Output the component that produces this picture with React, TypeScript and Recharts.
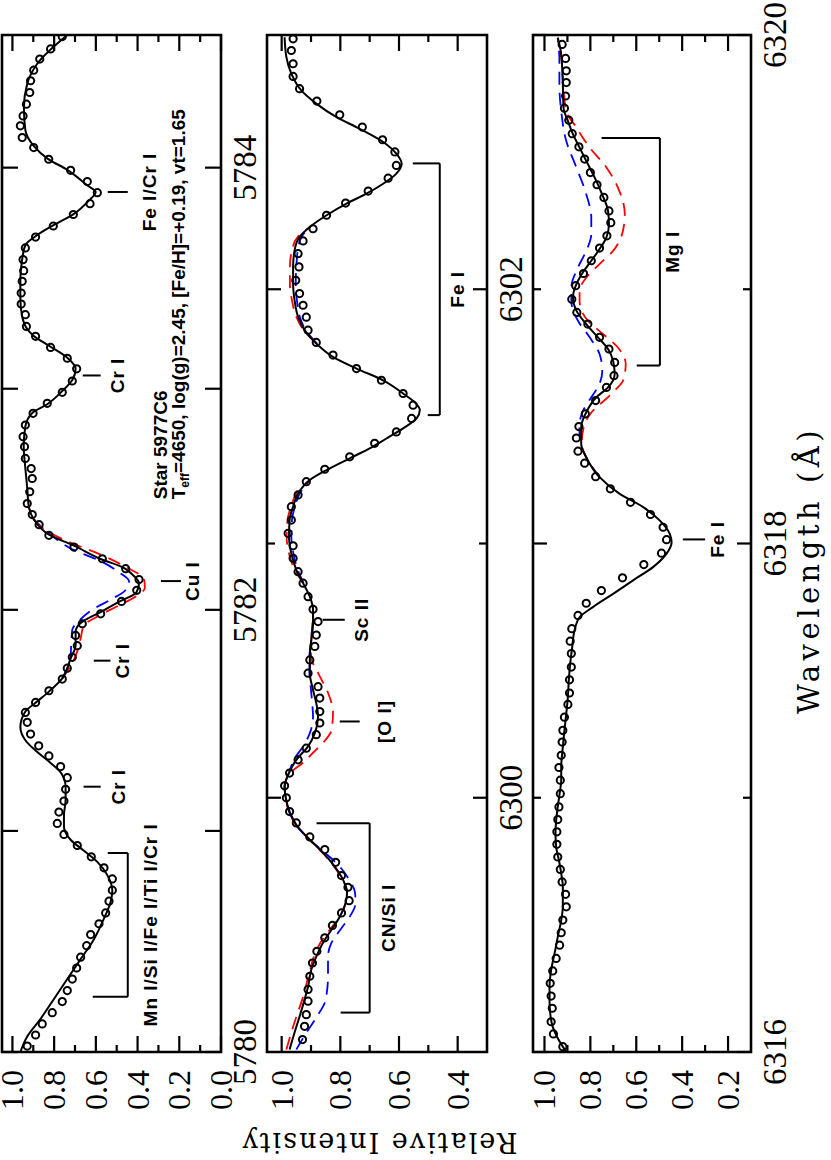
import React from 'react'
import { LineChart, Line, XAxis, YAxis, ReferenceLine, ReferenceDot, ReferenceArea } from 'recharts'

type P = [number, number]

// ---------- panel 1 : 5780 - 5784.6 A ----------
const p1Model: P[] = [
  [5780.00, 0.962], [5780.07, 0.929], [5780.15, 0.865], [5780.24, 0.801], [5780.33, 0.737], [5780.42, 0.673],
  [5780.51, 0.609], [5780.60, 0.563], [5780.68, 0.529], [5780.73, 0.521], [5780.80, 0.545], [5780.86, 0.593],
  [5780.91, 0.657], [5780.96, 0.721], [5781.02, 0.753], [5781.07, 0.753], [5781.14, 0.745], [5781.20, 0.745],
  [5781.26, 0.765], [5781.31, 0.820], [5781.36, 0.885], [5781.41, 0.938], [5781.47, 0.962], [5781.54, 0.938],
  [5781.58, 0.889], [5781.63, 0.825], [5781.69, 0.761], [5781.78, 0.721], [5781.84, 0.697], [5781.90, 0.697],
  [5781.94, 0.673], [5781.99, 0.577], [5782.04, 0.481], [5782.08, 0.405], [5782.12, 0.393], [5782.16, 0.425],
  [5782.19, 0.466], [5782.23, 0.577], [5782.29, 0.705], [5782.34, 0.825], [5782.41, 0.898], [5782.47, 0.922],
  [5782.55, 0.929], [5782.64, 0.938], [5782.74, 0.946], [5782.83, 0.938], [5782.89, 0.905], [5782.93, 0.833],
  [5782.99, 0.761], [5783.04, 0.713], [5783.09, 0.697], [5783.14, 0.737], [5783.19, 0.817], [5783.24, 0.899],
  [5783.27, 0.929], [5783.33, 0.954], [5783.41, 0.962], [5783.49, 0.962], [5783.58, 0.954], [5783.65, 0.938],
  [5783.69, 0.889], [5783.74, 0.803], [5783.79, 0.707], [5783.85, 0.635], [5783.89, 0.601], [5783.92, 0.641],
  [5783.99, 0.737], [5784.04, 0.830], [5784.10, 0.899], [5784.17, 0.938], [5784.27, 0.945], [5784.38, 0.929],
  [5784.47, 0.881], [5784.60, 0.737],
]
const p1Obs: P[] = [
  [5784.593, 0.761], [5784.537, 0.817], [5784.491, 0.869], [5784.441, 0.898], [5784.393, 0.913], [5784.340, 0.917],
  [5784.287, 0.933], [5784.234, 0.949], [5784.189, 0.962], [5784.136, 0.953], [5784.091, 0.898], [5784.038, 0.826],
  [5783.988, 0.721], [5783.937, 0.641], [5783.887, 0.593], [5783.837, 0.628], [5783.788, 0.708], [5783.736, 0.804],
  [5783.686, 0.889], [5783.637, 0.938], [5783.584, 0.949], [5783.534, 0.946], [5783.486, 0.953], [5783.433, 0.958],
  [5783.383, 0.958], [5783.335, 0.938], [5783.282, 0.933], [5783.237, 0.889], [5783.187, 0.817], [5783.138, 0.737],
  [5783.090, 0.692], [5783.035, 0.713], [5782.984, 0.761], [5782.934, 0.833], [5782.889, 0.901], [5782.836, 0.938],
  [5782.783, 0.949], [5782.738, 0.942], [5782.685, 0.938], [5782.639, 0.910], [5782.594, 0.905], [5782.534, 0.917],
  [5782.481, 0.929], [5782.431, 0.905], [5782.385, 0.872], [5782.337, 0.825], [5782.284, 0.705], [5782.231, 0.569],
  [5782.186, 0.457], [5782.137, 0.393], [5782.088, 0.404], [5782.038, 0.477], [5781.982, 0.577], [5781.937, 0.665],
  [5781.884, 0.697], [5781.838, 0.689], [5781.785, 0.713], [5781.736, 0.737], [5781.687, 0.761], [5781.634, 0.825],
  [5781.581, 0.889], [5781.536, 0.938], [5781.491, 0.929], [5781.438, 0.913], [5781.385, 0.874], [5781.339, 0.825],
  [5781.291, 0.769], [5781.241, 0.737], [5781.188, 0.745], [5781.135, 0.753], [5781.085, 0.777], [5781.034, 0.785],
  [5780.984, 0.753], [5780.934, 0.689], [5780.883, 0.622], [5780.833, 0.561], [5780.783, 0.521], [5780.732, 0.521],
  [5780.682, 0.537], [5780.629, 0.553], [5780.580, 0.585], [5780.531, 0.625], [5780.481, 0.644], [5780.429, 0.673],
  [5780.380, 0.692], [5780.330, 0.713], [5780.278, 0.737], [5780.228, 0.761], [5780.178, 0.809], [5780.127, 0.857],
  [5780.077, 0.889], [5780.027, 0.929],
]
const p1Red: P[][] = [[
  [5782.47, 0.922], [5782.39, 0.881], [5782.31, 0.737], [5782.25, 0.577], [5782.19, 0.449], [5782.14, 0.369],
  [5782.10, 0.365], [5782.06, 0.409], [5782.02, 0.489], [5781.97, 0.593], [5781.93, 0.657], [5781.87, 0.673],
  [5781.82, 0.686], [5781.76, 0.713], [5781.69, 0.761],
]]
const p1Blue: P[][] = [[
  [5782.41, 0.898], [5782.34, 0.817], [5782.27, 0.705], [5782.22, 0.577], [5782.17, 0.489], [5782.13, 0.441],
  [5782.09, 0.457], [5782.05, 0.521], [5782.005, 0.609], [5781.95, 0.681], [5781.91, 0.713], [5781.85, 0.718],
  [5781.79, 0.721], [5781.69, 0.761],
]]

// ---------- panel 2 : 6299 - 6303 A ----------
const p2Model: P[] = [
  [6299.010, 0.973], [6299.077, 0.956], [6299.139, 0.939], [6299.206, 0.922], [6299.257, 0.910], [6299.324, 0.899],
  [6299.375, 0.882], [6299.430, 0.859], [6299.481, 0.830], [6299.532, 0.802], [6299.587, 0.782], [6299.627, 0.777],
  [6299.678, 0.791], [6299.729, 0.819], [6299.784, 0.859], [6299.835, 0.904], [6299.894, 0.950], [6299.945, 0.973],
  [6300.000, 0.986], [6300.043, 0.990], [6300.098, 0.975], [6300.149, 0.950], [6300.202, 0.910], [6300.254, 0.887],
  [6300.320, 0.876], [6300.372, 0.882], [6300.424, 0.893], [6300.490, 0.904], [6300.555, 0.904], [6300.621, 0.899],
  [6300.686, 0.893], [6300.739, 0.893], [6300.791, 0.904], [6300.844, 0.927], [6300.896, 0.950], [6300.961, 0.967],
  [6301.027, 0.975], [6301.092, 0.973], [6301.145, 0.961], [6301.197, 0.944], [6301.250, 0.904], [6301.289, 0.847],
  [6301.335, 0.768], [6301.374, 0.700], [6301.413, 0.643], [6301.453, 0.586], [6301.492, 0.540], [6301.525, 0.529],
  [6301.550, 0.542], [6301.590, 0.586], [6301.642, 0.654], [6301.688, 0.745], [6301.734, 0.825], [6301.787, 0.882],
  [6301.839, 0.922], [6301.891, 0.944], [6301.957, 0.956], [6302.022, 0.961], [6302.088, 0.961], [6302.153, 0.956],
  [6302.206, 0.939], [6302.245, 0.904], [6302.291, 0.847], [6302.337, 0.779], [6302.376, 0.711], [6302.415, 0.654],
  [6302.455, 0.609], [6302.494, 0.591], [6302.533, 0.609], [6302.579, 0.654], [6302.631, 0.734], [6302.677, 0.813],
  [6302.730, 0.882], [6302.782, 0.933], [6302.848, 0.967], [6302.913, 0.984], [6302.991, 0.990],
]
const p2Obs: P[] = [
  [6302.985, 0.961], [6302.939, 0.967], [6302.887, 0.961], [6302.837, 0.961], [6302.789, 0.939], [6302.740, 0.880],
  [6302.686, 0.802], [6302.638, 0.725], [6302.588, 0.656], [6302.540, 0.614], [6302.487, 0.609], [6302.437, 0.637],
  [6302.386, 0.705], [6302.339, 0.782], [6302.291, 0.847], [6302.238, 0.893], [6302.190, 0.927], [6302.140, 0.944],
  [6302.088, 0.941], [6302.035, 0.952], [6301.983, 0.939], [6301.937, 0.927], [6301.890, 0.916], [6301.839, 0.910],
  [6301.791, 0.882], [6301.741, 0.825], [6301.688, 0.745], [6301.642, 0.660], [6301.590, 0.586], [6301.544, 0.552],
  [6301.492, 0.557], [6301.439, 0.609], [6301.394, 0.683], [6301.341, 0.768], [6301.292, 0.853], [6301.243, 0.916],
  [6301.191, 0.944], [6301.145, 0.967], [6301.092, 0.967], [6301.040, 0.978], [6300.991, 0.961], [6300.942, 0.961],
  [6300.889, 0.944], [6300.844, 0.927], [6300.791, 0.910], [6300.741, 0.893], [6300.693, 0.876], [6300.640, 0.882],
  [6300.595, 0.887], [6300.542, 0.904], [6300.490, 0.910], [6300.437, 0.876], [6300.392, 0.870], [6300.339, 0.870],
  [6300.294, 0.870], [6300.248, 0.882], [6300.195, 0.916], [6300.149, 0.944], [6300.097, 0.973], [6300.047, 0.990],
  [6300.000, 0.984], [6299.946, 0.973], [6299.901, 0.950], [6299.846, 0.904], [6299.796, 0.853], [6299.746, 0.816],
  [6299.694, 0.796], [6299.648, 0.774], [6299.595, 0.770], [6299.547, 0.796], [6299.498, 0.827], [6299.449, 0.853],
  [6299.396, 0.880], [6299.350, 0.895], [6299.298, 0.904], [6299.246, 0.910], [6299.200, 0.910], [6299.147, 0.916],
  [6299.101, 0.922], [6299.049, 0.929],
]
const p2Red: P[][] = [
  [[6302.245, 0.904], [6302.206, 0.945], [6302.153, 0.965], [6302.088, 0.972], [6302.022, 0.972], [6301.957, 0.965],
   [6301.891, 0.950], [6301.839, 0.925], [6301.787, 0.882]],
  [[6301.250, 0.904], [6301.197, 0.950], [6301.145, 0.968], [6301.092, 0.980], [6301.027, 0.983], [6300.961, 0.975],
   [6300.896, 0.955], [6300.844, 0.927]],
  [[6300.739, 0.893], [6300.686, 0.893], [6300.621, 0.899], [6300.555, 0.900], [6300.491, 0.876], [6300.413, 0.842],
   [6300.334, 0.825], [6300.267, 0.830], [6300.216, 0.859], [6300.177, 0.893], [6300.138, 0.927], [6300.098, 0.970],
   [6300.043, 0.990], [6300.000, 0.986], [6299.945, 0.975], [6299.894, 0.952], [6299.835, 0.906], [6299.784, 0.861],
   [6299.729, 0.821], [6299.678, 0.792], [6299.627, 0.777], [6299.587, 0.781], [6299.532, 0.802], [6299.481, 0.836],
   [6299.430, 0.868], [6299.375, 0.890], [6299.300, 0.908], [6299.206, 0.930], [6299.139, 0.950], [6299.077, 0.967],
   [6299.010, 0.984]],
]
const p2Blue: P[][] = [
  [[6302.245, 0.904], [6302.206, 0.932], [6302.153, 0.945], [6302.088, 0.950], [6302.022, 0.952], [6301.957, 0.948],
   [6301.891, 0.938], [6301.839, 0.918], [6301.787, 0.880]],
  [[6301.250, 0.904], [6301.197, 0.938], [6301.145, 0.955], [6301.092, 0.965], [6301.027, 0.967], [6300.961, 0.960],
   [6300.896, 0.945], [6300.844, 0.925]],
  [[6300.739, 0.893], [6300.686, 0.895], [6300.621, 0.900], [6300.555, 0.905], [6300.490, 0.905], [6300.424, 0.900],
   [6300.372, 0.896], [6300.320, 0.893], [6300.254, 0.904], [6300.202, 0.927], [6300.156, 0.955], [6300.098, 0.975],
   [6300.043, 0.990], [6300.000, 0.986], [6299.945, 0.975], [6299.894, 0.952], [6299.835, 0.905], [6299.784, 0.853],
   [6299.729, 0.802], [6299.678, 0.770], [6299.627, 0.750], [6299.587, 0.748], [6299.532, 0.768], [6299.481, 0.800],
   [6299.430, 0.830], [6299.375, 0.842], [6299.300, 0.842], [6299.206, 0.850], [6299.139, 0.880], [6299.077, 0.915],
   [6299.010, 0.950]],
]

// ---------- panel 3 : 6316 - 6320 A ----------
const p3Model: P[] = [
  [6316.000, 0.905], [6316.054, 0.942], [6316.099, 0.964], [6316.152, 0.975], [6316.204, 0.978], [6316.257, 0.978],
  [6316.322, 0.971], [6316.388, 0.956], [6316.453, 0.942], [6316.519, 0.927], [6316.571, 0.920], [6316.650, 0.920],
  [6316.702, 0.927], [6316.754, 0.937], [6316.807, 0.949], [6316.859, 0.952], [6316.912, 0.949], [6316.964, 0.942],
  [6317.016, 0.934], [6317.069, 0.927], [6317.121, 0.927], [6317.200, 0.920], [6317.265, 0.913], [6317.331, 0.905],
  [6317.396, 0.898], [6317.462, 0.894], [6317.527, 0.888], [6317.593, 0.879], [6317.658, 0.869], [6317.710, 0.847],
  [6317.750, 0.789], [6317.802, 0.701], [6317.855, 0.614], [6317.907, 0.527], [6317.960, 0.468], [6318.005, 0.446],
  [6318.038, 0.454], [6318.090, 0.497], [6318.143, 0.570], [6318.195, 0.672], [6318.261, 0.760], [6318.339, 0.818],
  [6318.392, 0.840], [6318.457, 0.840], [6318.516, 0.818], [6318.575, 0.774], [6318.614, 0.723], [6318.667, 0.694],
  [6318.719, 0.701], [6318.765, 0.723], [6318.811, 0.767], [6318.863, 0.818], [6318.916, 0.861], [6318.968, 0.876],
  [6319.020, 0.861], [6319.066, 0.833], [6319.112, 0.796], [6319.158, 0.760], [6319.204, 0.730], [6319.256, 0.719],
  [6319.308, 0.723], [6319.380, 0.752], [6319.439, 0.781], [6319.505, 0.818], [6319.557, 0.847], [6319.610, 0.876],
  [6319.662, 0.898], [6319.714, 0.917], [6319.806, 0.920], [6319.924, 0.927], [6319.989, 0.942],
]
const p3Obs: P[] = [
  [6319.963, 0.923], [6319.908, 0.908], [6319.859, 0.905], [6319.813, 0.905], [6319.760, 0.908], [6319.712, 0.913],
  [6319.665, 0.894], [6319.612, 0.879], [6319.560, 0.850], [6319.512, 0.825], [6319.459, 0.800], [6319.411, 0.771],
  [6319.361, 0.741], [6319.308, 0.719], [6319.262, 0.711], [6319.210, 0.728], [6319.162, 0.760], [6319.112, 0.796],
  [6319.062, 0.830], [6319.014, 0.864], [6318.961, 0.881], [6318.909, 0.859], [6318.863, 0.811], [6318.811, 0.760],
  [6318.765, 0.719], [6318.712, 0.694], [6318.660, 0.697], [6318.614, 0.730], [6318.562, 0.777], [6318.510, 0.822],
  [6318.460, 0.850], [6318.415, 0.861], [6318.363, 0.854], [6318.316, 0.825], [6318.263, 0.777], [6318.215, 0.713],
  [6318.162, 0.625], [6318.114, 0.538], [6318.064, 0.483], [6318.015, 0.468], [6317.962, 0.490], [6317.917, 0.567],
  [6317.865, 0.660], [6317.815, 0.752], [6317.765, 0.818], [6317.717, 0.854], [6317.665, 0.881], [6317.616, 0.888],
  [6317.567, 0.883], [6317.514, 0.883], [6317.464, 0.891], [6317.412, 0.891], [6317.367, 0.898], [6317.317, 0.913],
  [6317.265, 0.920], [6317.219, 0.923], [6317.167, 0.927], [6317.119, 0.937], [6317.069, 0.931], [6317.016, 0.931],
  [6316.964, 0.937], [6316.914, 0.942], [6316.866, 0.946], [6316.817, 0.946], [6316.767, 0.942], [6316.718, 0.931],
  [6316.669, 0.923], [6316.620, 0.908], [6316.571, 0.905], [6316.519, 0.920], [6316.469, 0.927], [6316.420, 0.934],
  [6316.368, 0.949], [6316.319, 0.964], [6316.270, 0.975], [6316.220, 0.971], [6316.172, 0.966], [6316.119, 0.971],
  [6316.071, 0.961], [6316.021, 0.920],
]
const p3Red: P[][] = [[
  [6319.989, 0.942], [6319.900, 0.925], [6319.800, 0.918], [6319.701, 0.905], [6319.636, 0.861], [6319.557, 0.803],
  [6319.479, 0.730], [6319.400, 0.680], [6319.295, 0.650], [6319.230, 0.658], [6319.151, 0.701], [6319.099, 0.760],
  [6319.046, 0.818], [6318.994, 0.847], [6318.955, 0.847], [6318.876, 0.811], [6318.824, 0.745], [6318.771, 0.680],
  [6318.706, 0.646], [6318.640, 0.658], [6318.608, 0.687], [6318.575, 0.724], [6318.516, 0.795], [6318.457, 0.829],
  [6318.392, 0.838], [6318.339, 0.818], [6318.261, 0.760],
]]
const p3Blue: P[][] = [[
  [6319.989, 0.942], [6319.900, 0.935], [6319.800, 0.935], [6319.701, 0.927], [6319.583, 0.905], [6319.479, 0.861],
  [6319.374, 0.818], [6319.282, 0.796], [6319.217, 0.796], [6319.151, 0.818], [6319.086, 0.854], [6319.007, 0.883],
  [6318.955, 0.883], [6318.876, 0.854], [6318.811, 0.803], [6318.745, 0.760], [6318.680, 0.748], [6318.628, 0.760],
  [6318.575, 0.796], [6318.516, 0.835], [6318.457, 0.848], [6318.392, 0.842], [6318.339, 0.818], [6318.261, 0.760],
]]

// line identifications: single markers and brackets (wavelength, intensity)
const p1Marks = [
  { w: 5783.89, lo: 0.447, hi: 0.543, text: 'Fe I/Cr I', ty: 0.346 },
  { w: 5783.06, lo: 0.577, hi: 0.663, text: 'Cr I', ty: 0.50 },
  { w: 5782.13, lo: 0.192, hi: 0.288, text: 'Cu I', ty: 0.139 },
  { w: 5781.77, lo: 0.530, hi: 0.610, text: 'Cr I', ty: 0.476 },
  { w: 5781.20, lo: 0.577, hi: 0.659, text: 'Cr I', ty: 0.495 },
]
const p1Brackets = [{ w1: 5780.25, w2: 5780.90, base: 0.447, top1: 0.615, top2: 0.543, text: 'Mn I/Si I/Fe I/Ti I/Cr I', ty: 0.341 }]
const p2Marks = [
  { w: 6300.70, lo: 0.785, hi: 0.860, text: 'Sc II', ty: 0.730 },
  { w: 6300.30, lo: 0.734, hi: 0.802, text: '[O I]', ty: 0.652 },
]
const p2Brackets = [
  { w1: 6301.505, w2: 6302.495, base: 0.461, top1: 0.502, top2: 0.553, text: 'Fe I', ty: 0.403 },
  { w1: 6299.155, w2: 6299.90, base: 0.700, top1: 0.799, top2: 0.881, text: 'CN/Si I', ty: 0.638 },
]
const p3Marks = [{ w: 6318.016, lo: 0.300, hi: 0.397, text: 'Fe I', ty: 0.248 }]
const p3Brackets = [{ w1: 6318.70, w2: 6319.595, base: 0.497, top1: 0.598, top2: 0.751, text: 'Mg I', ty: 0.445 }]

const p1WaveTicks = [5780, 5781, 5782, 5783, 5784]
const p1WaveLabels = [5780, 5782, 5784]
const p2WaveTicks = [6300, 6301, 6302]
const p2WaveLabels = [6300, 6302]
const p3WaveTicks = [6316, 6317, 6318, 6319, 6320]
const p3WaveLabels = [6316, 6318, 6320]
const p1IntTicks = [0, 0.1, 0.2, 0.3, 0.4, 0.5, 0.6, 0.7, 0.8, 0.9, 1.0]
const p2IntTicks = [0.4, 0.5, 0.6, 0.7, 0.8, 0.9, 1.0]
const p3IntTicks = [0.2, 0.3, 0.4, 0.5, 0.6, 0.7, 0.8, 0.9, 1.0]

const starName = 'Star 5977C6'
const starParams = '=4650, log(g)=2.45, [Fe/H]=+0.19, vt=1.65'

const FONT_TICK = '"Liberation Serif", "Times New Roman", serif'
const FONT_NOTE = '"Liberation Sans", Arial, sans-serif'
const FONT_TITLE = '"DejaVu Serif", serif'
const PLOT_W = 1017

const pts = (a: P[]) => a.map(([w, v]) => ({ w, v })).sort((p, q) => p.w - q.w)

function WaveTick({ x, y, payload, plotH, labels, minor, majorLen }: any) {
  const w = payload.value
  const len = minor.includes(w) ? 8 : majorLen
  return (
    <g>
      <line x1={x} y1={y} x2={x} y2={y - len} stroke="#000" strokeWidth={2.2} />
      <line x1={x} y1={y - plotH} x2={x} y2={y - plotH + len} stroke="#000" strokeWidth={2.2} />
      {labels.includes(w) && (
        <text x={x} y={y + 35} textAnchor="middle" fontSize={33} fontFamily={FONT_TICK} fill="#000">{w}</text>
      )}
    </g>
  )
}

function IntTick({ x, y, payload }: any) {
  const v = payload.value
  const major = Math.round(v * 10) % 2 === 0
  const len = major ? 16 : 7
  return (
    <g>
      <line x1={x} y1={y} x2={x + len} y2={y} stroke="#000" strokeWidth={2.2} />
      <line x1={x + PLOT_W} y1={y} x2={x + PLOT_W - len} y2={y} stroke="#000" strokeWidth={2.2} />
      {major && (
        <text x={x - 18} y={y + 11} textAnchor="end" fontSize={32} fontFamily={FONT_TICK} fill="#000">{v.toFixed(1)}</text>
      )}
    </g>
  )
}

function Note({ cx, cy, text }: any) {
  return (
    <text x={cx} y={cy + 7} textAnchor="middle" fontFamily={FONT_NOTE} fontWeight={700} fontSize={19}
      letterSpacing={1} fill="#000">{text}</text>
  )
}

function StarNote({ cx, cy }: any) {
  return (
    <g fontFamily={FONT_NOTE} fontWeight={700} fill="#000">
      <text x={cx} y={cy + 7} fontSize={19}>{starName}</text>
      <text x={cx} y={cy + 25} fontSize={19}>
        T<tspan fontSize={12} dy={4}>eff</tspan><tspan dy={-4}>{starParams}</tspan>
      </text>
    </g>
  )
}

function Panel(props: any) {
  const { top, mt, plotH, xDomain, yDomain, xTicks, xLabels, xMinor, majorLen, yTicks, model, obs, red, blue, marks, brackets, star } = props
  const height = mt + plotH + 44
  return (
    <div style={{ position: 'absolute', left: 0, top }}>
      <LineChart width={1160} height={height} margin={{ top: mt, right: 35, bottom: 0, left: 0 }}>
        <XAxis type="number" dataKey="w" domain={xDomain} allowDataOverflow ticks={xTicks} interval={0}
          tickSize={0} tickMargin={0} axisLine={false} tickLine={false} height={44}
          tick={(p: any) => <WaveTick {...p} plotH={plotH} labels={xLabels} minor={xMinor} majorLen={majorLen} />} />
        <YAxis type="number" domain={yDomain} allowDataOverflow ticks={yTicks} interval={0}
          tickSize={0} tickMargin={0} axisLine={false} tickLine={false} width={108}
          tick={(p: any) => <IntTick {...p} />} />
        {blue.map((seg: P[], i: number) => (
          <Line key={'b' + i} data={pts(seg)} dataKey="v" type="monotone" stroke="#0000ff" strokeWidth={1.8}
            strokeDasharray="13 8" dot={false} activeDot={false} isAnimationActive={false} />
        ))}
        {red.map((seg: P[], i: number) => (
          <Line key={'r' + i} data={pts(seg)} dataKey="v" type="monotone" stroke="#ff0000" strokeWidth={1.8}
            strokeDasharray="13 8" dot={false} activeDot={false} isAnimationActive={false} />
        ))}
        <Line data={pts(model)} dataKey="v" type="monotone" stroke="#000" strokeWidth={2} dot={false}
          activeDot={false} isAnimationActive={false} />
        <Line data={pts(obs)} dataKey="v" stroke="none" strokeWidth={0} activeDot={false} isAnimationActive={false}
          dot={{ r: 3.6, stroke: '#000', strokeWidth: 2, fill: 'none' }} />
        {marks.map((m: any, i: number) => (
          <ReferenceLine key={'m' + i} segment={[{ x: m.w, y: m.lo }, { x: m.w, y: m.hi }]} stroke="#000"
            strokeWidth={2} ifOverflow="visible" />
        ))}
        {marks.map((m: any, i: number) => (
          <ReferenceDot key={'mt' + i} x={m.w} y={m.ty} r={1} ifOverflow="visible"
            shape={(p: any) => <Note {...p} text={m.text} />} />
        ))}
        {brackets.map((b: any, i: number) => [
          <ReferenceLine key={'b1' + i} segment={[{ x: b.w1, y: b.base }, { x: b.w1, y: b.top1 }]} stroke="#000" strokeWidth={2} ifOverflow="visible" />,
          <ReferenceLine key={'b2' + i} segment={[{ x: b.w2, y: b.base }, { x: b.w2, y: b.top2 }]} stroke="#000" strokeWidth={2} ifOverflow="visible" />,
          <ReferenceLine key={'b3' + i} segment={[{ x: b.w1, y: b.base }, { x: b.w2, y: b.base }]} stroke="#000" strokeWidth={2} ifOverflow="visible" />,
          <ReferenceDot key={'bt' + i} x={(b.w1 + b.w2) / 2} y={b.ty} r={1} ifOverflow="visible"
            shape={(p: any) => <Note {...p} text={b.text} />} />,
        ])}
        {star && (
          <ReferenceDot x={star.w} y={star.v} r={1} ifOverflow="visible" shape={(p: any) => <StarNote {...p} />} />
        )}
        <ReferenceArea x1={xDomain[0]} x2={xDomain[1]} y1={yDomain[0]} y2={yDomain[1]} fill="none" stroke="#000"
          strokeWidth={2.6} ifOverflow="visible" />
      </LineChart>
    </div>
  )
}

export default function App() {
  return (
    <div style={{ position: 'absolute', left: 0, top: 0, width: 831, height: 1160, overflow: 'hidden', background: '#fff' }}>
      <div style={{ position: 'absolute', left: 0, top: 0, width: 1160, height: 831, transformOrigin: '0 0',
        transform: 'translate(0px, 1160px) rotate(-90deg)' }}>
        <svg width={1160} height={831} style={{ position: 'absolute', left: 0, top: 0 }}>
          <text transform="translate(27,379) rotate(-90)" textAnchor="middle" fontFamily={FONT_TITLE} fontSize={27}
            letterSpacing={2} fill="#000">Relative Intensity</text>
          <text x={590} y={819} textAnchor="middle" fontFamily={FONT_TITLE} fontSize={29} letterSpacing={4.5}
            fill="#000">Wavelength (Å)</text>
        </svg>
        <Panel top={0} mt={2} plotH={219} xDomain={[5780, 5784.6]} yDomain={[0, 1.05]} xTicks={p1WaveTicks}
          xLabels={p1WaveLabels} xMinor={[]} majorLen={16} yTicks={p1IntTicks} model={p1Model} obs={p1Obs}
          red={p1Red} blue={p1Blue} marks={p1Marks} brackets={p1Brackets} star={{ w: 5782.5, v: 0.293 }} />
        <Panel top={256} mt={11} plotH={220} xDomain={[6299, 6303]} yDomain={[0.3, 1.05]} xTicks={p2WaveTicks}
          xLabels={p2WaveLabels} xMinor={[6301]} majorLen={14} yTicks={p2IntTicks} model={p2Model} obs={p2Obs}
          red={p2Red} blue={p2Blue} marks={p2Marks} brackets={p2Brackets} />
        <Panel top={522} mt={11} plotH={218} xDomain={[6316, 6320]} yDomain={[0.1, 1.05]} xTicks={p3WaveTicks}
          xLabels={p3WaveLabels} xMinor={[6317, 6319]} majorLen={14} yTicks={p3IntTicks} model={p3Model} obs={p3Obs}
          red={p3Red} blue={p3Blue} marks={p3Marks} brackets={p3Brackets} />
      </div>
    </div>
  )
}
